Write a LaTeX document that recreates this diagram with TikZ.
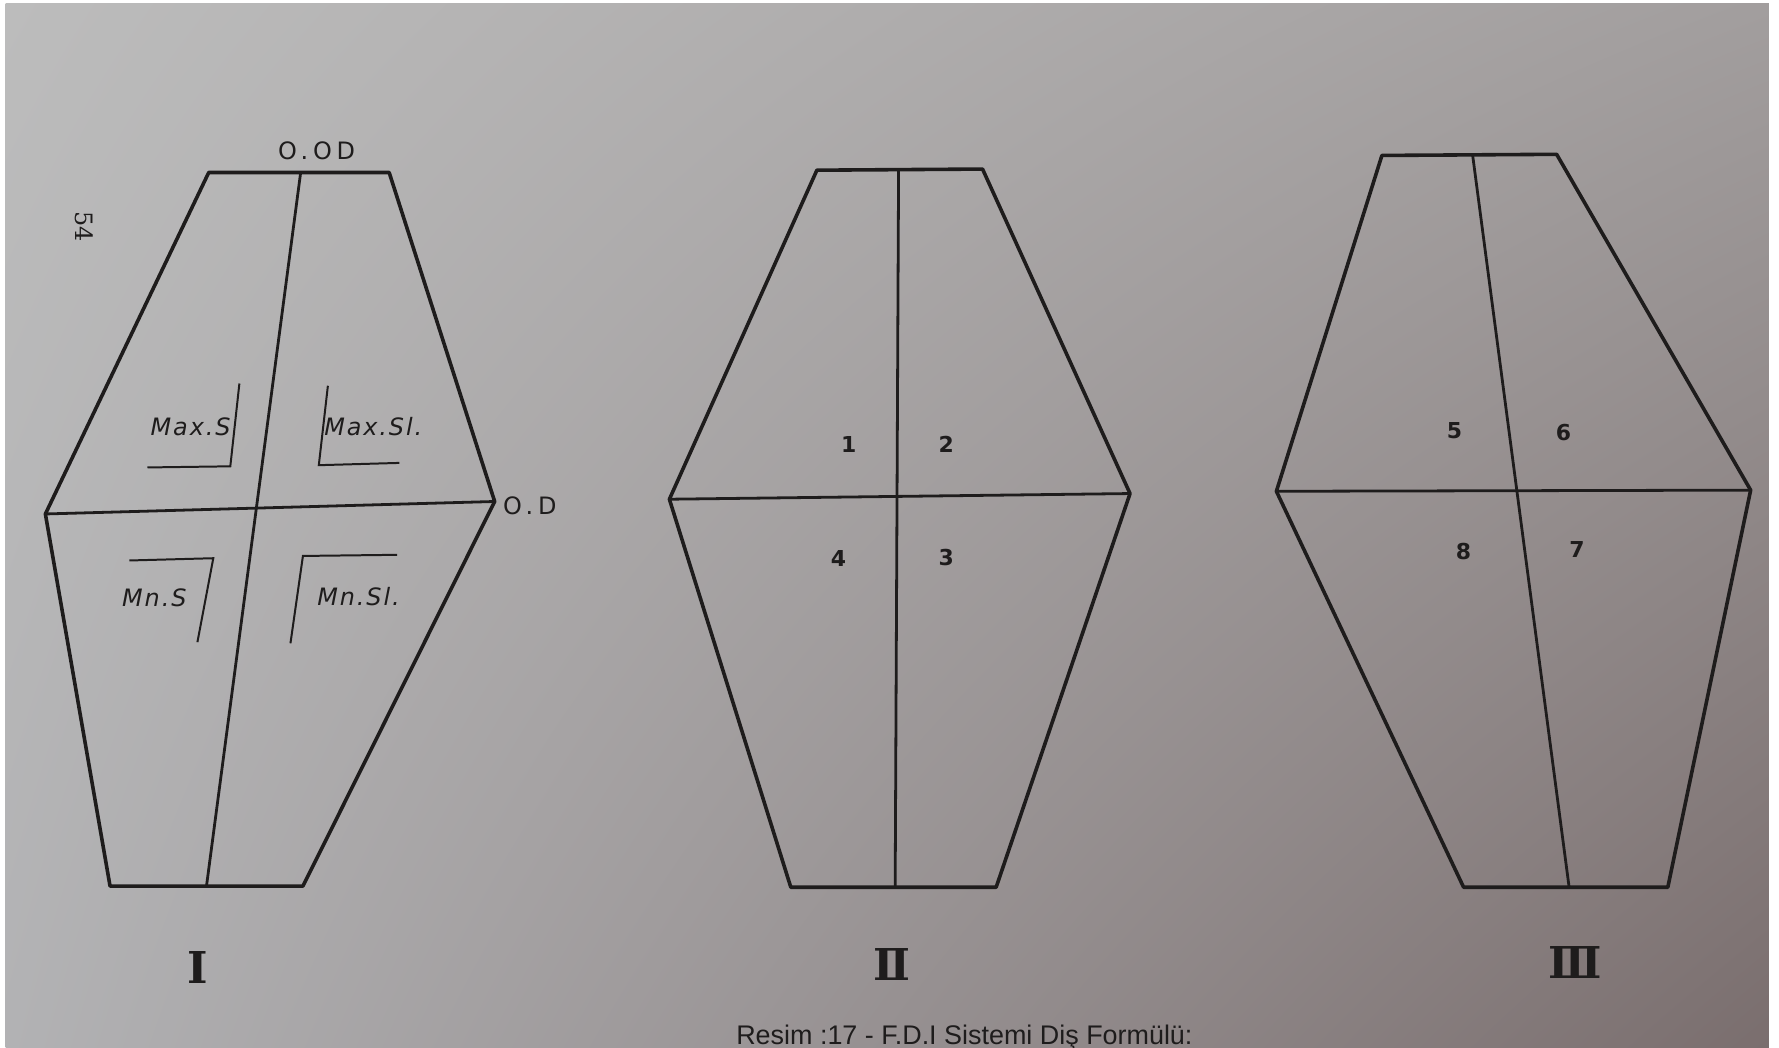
\documentclass[tikz,border=0pt]{standalone}
\usepackage{fontspec}
\setmainfont{DejaVu Sans}
\newfontfamily\capfont{Liberation Sans}
\newfontfamily\romfont{DejaVu Serif}
\usetikzlibrary{positioning, shadings}

\definecolor{ink}{RGB}{30,28,28}
\definecolor{paperTL}{RGB}{188,188,188}
\definecolor{paperTR}{RGB}{162,158,158}
\definecolor{paperBL}{RGB}{178,178,180}
\definecolor{paperBR}{RGB}{122,110,110}

\begin{document}
\begin{tikzpicture}[x=0.2mm, y=-0.2mm,
        outline/.style={draw=ink, line width=1.8pt, line join=round},
        divline/.style={draw=ink, line width=1.4pt},
        bracket/.style={draw=ink, line width=1pt},
        quadlbl/.style={font=\fontsize{12}{14}\selectfont\itshape\addfontfeature{LetterSpace=8}, text=ink, inner sep=0pt},
        toothno/.style={font=\fontsize{11}{13}\selectfont\bfseries, text=ink, inner sep=0pt},
        planelbl/.style={font=\fontsize{12}{14}\selectfont\addfontfeature{LetterSpace=20}, text=ink, inner sep=0pt},
        roman/.style={font=\romfont\bfseries\fontsize{22}{24}\selectfont, text=ink, inner sep=0pt}
    ]
        \useasboundingbox (0,0) rectangle (1568,923);
        \clip (0,0) rectangle (1568,923);
        \fill[white] (0,0) rectangle (1568,923);
        \shade[upper left=paperTL, upper right=paperTR, lower left=paperBL, lower right=paperBR] (5,3.5) rectangle (1559,923);

        % I
        \coordinate (a-tl) at (184,152);
        \coordinate (a-tr) at (343,152);
        \coordinate (a-r) at (436,442);
        \coordinate (a-br) at (267,781);
        \coordinate (a-bl) at (97,781);
        \coordinate (a-l) at (40,453);
        \coordinate (a-top) at (265,152);
        \coordinate (a-bot) at (182,781);
        \draw[outline] (a-tl) -- (a-tr) -- (a-r) -- (a-br) -- (a-bl) -- (a-l) -- cycle;
        \draw[divline] (a-l) -- (a-r);
        \draw[divline] (a-top) -- (a-bot);

        \node[planelbl] (ood) at (279,133) {O.OD};
        \node[planelbl, anchor=west] (od) at (443,446) {O.D};
        \node[font=\romfont\fontsize{12}{14}\selectfont, text=ink, inner sep=0pt, rotate=-90] (page) at (74,200) {54};

        \draw[bracket] (211,338) -- (203,411) -- (130,412);
        \draw[bracket] (289,340) -- (281,410) -- (352,408);
        \draw[bracket] (114,494) -- (188,492) -- (174,566);
        \draw[bracket] (256,567) -- (267,490) -- (350,489);
        \node[quadlbl] (maxs) at (168,376) {Max.S};
        \node[quadlbl] (maxsl) at (329,376) {Max.Sl.};
        \node[quadlbl] (mns) at (136,527) {Mn.S};
        \node[quadlbl] (mnsl) at (316,526) {Mn.Sl.};

        % II
        \coordinate (b-tl) at (720,150);
        \coordinate (b-tr) at (866,149);
        \coordinate (b-r) at (996,435);
        \coordinate (b-br) at (878,782);
        \coordinate (b-bl) at (697,782);
        \coordinate (b-l) at (590,440);
        \coordinate (b-top) at (792,150);
        \coordinate (b-bot) at (789,782);
        \draw[outline] (b-tl) -- (b-tr) -- (b-r) -- (b-br) -- (b-bl) -- (b-l) -- cycle;
        \draw[divline] (b-l) -- (b-r);
        \draw[divline] (b-top) -- (b-bot);

        \node[toothno] (q1) at (748,392) {1};
        \node[toothno] (q2) at (834,392) {2};
        \node[toothno] (q3) at (834,491) {3};
        \node[toothno] (q4) at (739,492) {4};

        % III
        \coordinate (c-tl) at (1218,137);
        \coordinate (c-tr) at (1372,136);
        \coordinate (c-r) at (1543,432);
        \coordinate (c-br) at (1470,782);
        \coordinate (c-bl) at (1290,782);
        \coordinate (c-l) at (1125,433);
        \coordinate (c-top) at (1298,137);
        \coordinate (c-bot) at (1383,782);
        \draw[outline] (c-tl) -- (c-tr) -- (c-r) -- (c-br) -- (c-bl) -- (c-l) -- cycle;
        \draw[divline] (c-l) -- (c-r);
        \draw[divline] (c-top) -- (c-bot);

        \node[toothno] (q5) at (1282,380) {5};
        \node[toothno] (q6) at (1378,381) {6};
        \node[toothno] (q7) at (1390,484) {7};
        \node[toothno] (q8) at (1290,486) {8};

        \node[roman] (rom1) at (174,853) {Ⅰ};
        \node[roman] (rom2) at (786,850) {Ⅱ};
        \node[roman] (rom3) at (1388,848) {Ⅲ};

        \node[font=\capfont\fontsize{13.5}{15}\selectfont, text=ink, anchor=base] (caption) at (850,921) {Resim :17 - F.D.I Sistemi Diş Formülü:};
    \end{tikzpicture}
\end{document}
